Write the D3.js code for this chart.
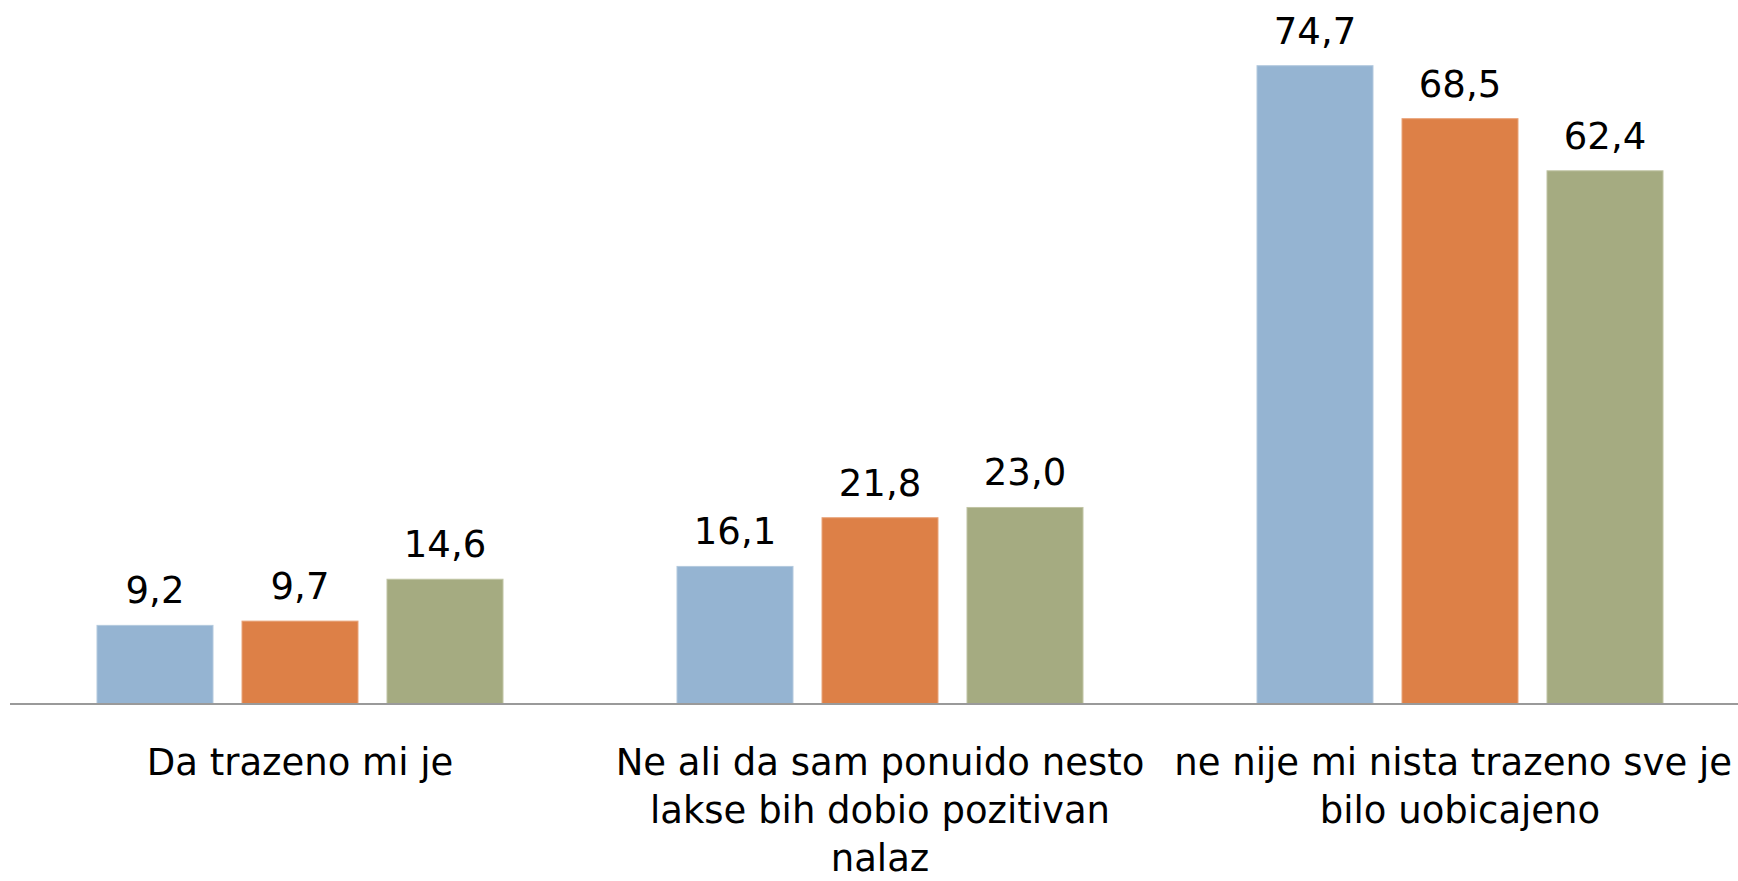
<!DOCTYPE html>
<html>
<head>
<meta charset="utf-8">
<script src="https://cdn.jsdelivr.net/npm/d3@7"></script>
<style>
  html, body { margin: 0; padding: 0; background: #fff; }
  svg { display: block; }
  text { font-family: "DejaVu Sans", sans-serif; fill: #000; }
</style>
</head>
<body>
<div id="chart"></div>
<script>
// categories, shown as the wrapped lines of the axis labels
const categories = ["Da trazeno mi je", "Ne ali da sam ponuido nesto", "ne nije mi nista trazeno sve je"];
const categoryLines = [
  ["Da trazeno mi je"],
  ["Ne ali da sam ponuido nesto", "lakse bih dobio pozitivan", "nalaz"],
  ["ne nije mi nista trazeno sve je", "bilo uobicajeno"]
];
const seriesNames = ["s1", "s2", "s3"];
const series1 = [9.2, 16.1, 74.7];
const series2 = [9.7, 21.8, 68.5];
const series3 = [14.6, 23.0, 62.4];

const W = 1738, H = 881;
const MARGIN = {LEFT: 10, RIGHT: -12, BASE: 704};
const colors = ["#95B4D2", "#DD8047", "#A5AB81"];
const strokes = ["#B3C9DE", "#E9A47A", "#C0C4A4"];

const svg = d3.select("#chart").append("svg")
  .attr("width", W)
  .attr("height", H);

// band for each category, then a band per series inside it
const x0 = d3.scaleBand()
  .domain(categories)
  .range([MARGIN.LEFT, W - MARGIN.RIGHT]);

const x1 = d3.scaleBand()
  .domain(seriesNames)
  .range([0, x0.bandwidth()])
  .paddingInner(0.2)
  .paddingOuter(0.6);

const y = d3.scaleLinear()
  .domain([0, 80])
  .range([MARGIN.BASE, MARGIN.BASE - 80 * 8.545]);

const allSeries = [series1, series2, series3];
const data = categories.map((c, i) => ({
  cat: c,
  vals: seriesNames.map((s, j) => ({key: s, idx: j, value: allSeries[j][i]}))
}));

const groups = svg.selectAll(".grp")
  .data(data)
  .enter()
  .append("g")
  .attr("class", "grp")
  .attr("transform", (d) => "translate(" + x0(d.cat) + ",0)");

groups.selectAll("rect")
  .data((d) => d.vals)
  .enter()
  .append("rect")
  .attr("x", (d) => x1(d.key))
  .attr("y", (d) => y(d.value))
  .attr("width", x1.bandwidth())
  .attr("height", (d) => y(0) - y(d.value))
  .attr("fill", (d) => colors[d.idx])
  .attr("stroke", (d) => strokes[d.idx])
  .attr("stroke-width", 1);

// value labels, decimal comma
groups.selectAll(".val")
  .data((d) => d.vals)
  .enter()
  .append("text")
  .attr("class", "val")
  .attr("x", (d) => x1(d.key) + x1.bandwidth() / 2)
  .attr("y", (d) => y(d.value) - 22)
  .attr("text-anchor", "middle")
  .style("font-size", "37px")
  .text((d) => d.value.toFixed(1).replace(".", ","));

// baseline
svg.append("line")
  .attr("x1", MARGIN.LEFT)
  .attr("x2", W)
  .attr("y1", y(0))
  .attr("y2", y(0))
  .attr("stroke", "#9A9A9A")
  .attr("stroke-width", 2);

// category labels
categories.forEach((c, i) => {
  const cx = x0(c) + x0.bandwidth() / 2;
  categoryLines[i].forEach((line, k) => {
    const t = svg.append("text")
      .attr("x", cx)
      .attr("y", y(0) + 71 + k * 48)
      .attr("text-anchor", "middle")
      .style("font-size", "37px")
      .text(line);
    // keep text inside the picture like the original does
    const len = t.node().getComputedTextLength();
    if (cx + len / 2 > W - 6) t.attr("x", W - 6 - len / 2);
  });
});
</script>
</body>
</html>
